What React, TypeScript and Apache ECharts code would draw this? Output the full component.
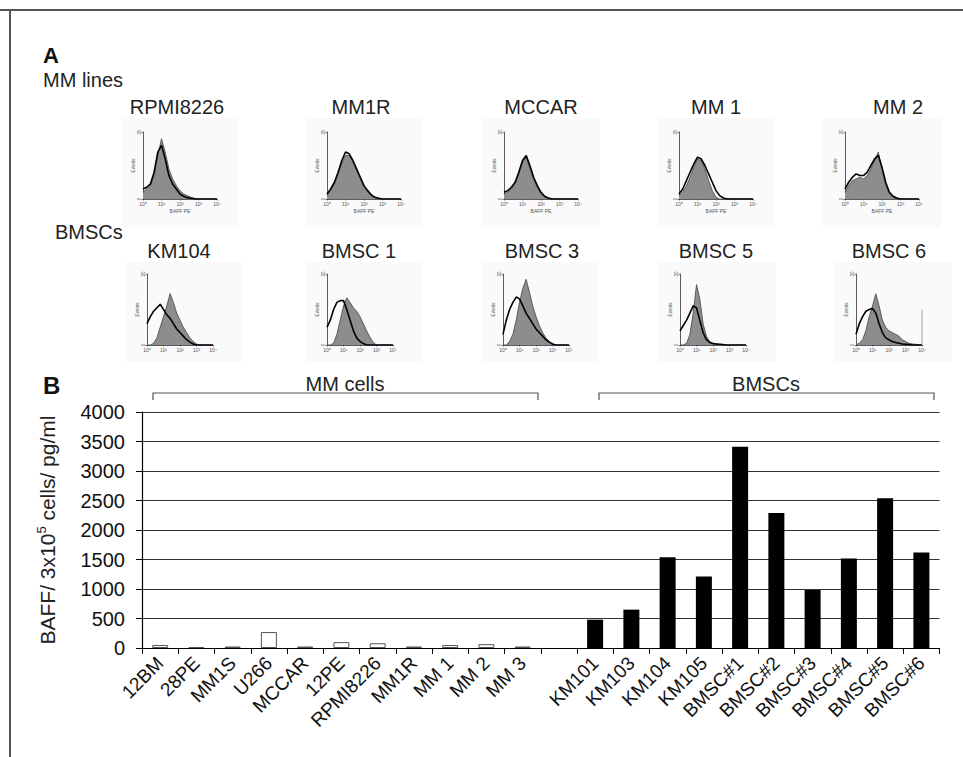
import React, { useEffect, useRef } from 'react';
import * as echarts from 'echarts';

const FONT = '"Liberation Sans", Arial, Helvetica, sans-serif';

// ---------- Panel A: flow histograms (x in log decades 10^0..10^4) ----------
const HIST_X = [0, 0.2, 0.4, 0.6, 0.8, 1, 1.2, 1.4, 1.6, 1.8, 2, 2.2, 2.4, 2.6, 2.8, 3, 3.2, 3.4, 3.6, 3.8, 4];
const HIST_DECADE_LABELS = ['10⁰', '10¹', '10²', '10³', '10⁴'];

const MM_LINE_NAMES = ['RPMI8226', 'MM1R', 'MCCAR', 'MM 1', 'MM 2'];
const BMSC_PANEL_NAMES = ['KM104', 'BMSC 1', 'BMSC 3', 'BMSC 5', 'BMSC 6'];

const RPMI8226_FILLED = [2, 3, 4, 7, 13, 18, 14, 9, 6, 4, 2.5, 1.5, 1, 0.5, 0.2, 0, 0, 0, 0, 0, 0];
const RPMI8226_OPEN = [3, 3.5, 4.5, 8, 14, 16, 12, 7, 4.5, 3, 1.5, 0.8, 0.4, 0.2, 0, 0, 0, 0, 0, 0, 0];
const MM1R_FILLED = [1, 2.5, 4.5, 7.5, 10.5, 13, 13, 11, 8.5, 6, 3.5, 2, 1, 0.3, 0, 0, 0, 0, 0, 0, 0];
const MM1R_OPEN = [1.5, 3, 5, 8, 11.5, 14, 13.5, 11.5, 9, 6.5, 4, 2.5, 1.2, 0.5, 0.2, 0, 0, 0, 0, 0, 0];
const MCCAR_FILLED = [1.5, 2, 3, 4.5, 7.5, 11, 12.5, 9, 6, 3.5, 1.5, 0.5, 0.2, 0, 0, 0, 0, 0, 0, 0, 0];
const MCCAR_OPEN = [2, 2.5, 3.5, 5, 8, 11.5, 13, 10, 6.5, 4, 2, 0.8, 0.3, 0, 0, 0, 0, 0, 0, 0, 0];
const MM1_FILLED = [1, 2, 4, 6.5, 9.5, 12, 11.5, 9, 5.5, 2.5, 0.5, 0, 0, 0, 0, 0, 0, 0, 0, 0, 0];
const MM1_OPEN = [1.5, 3, 5.5, 8, 10.5, 12.5, 12, 10, 7.5, 5, 2.5, 1, 0.3, 0, 0, 0, 0, 0, 0, 0, 0];
const MM2_FILLED = [2, 4, 5.5, 6, 6.5, 6, 7, 9, 11.5, 14, 9, 4, 1.5, 0.5, 0, 0, 0, 0, 0, 0, 0];
const MM2_OPEN = [3, 5, 6.5, 7.5, 7, 7, 8, 10, 12, 13, 9.5, 5, 2, 0.8, 0.3, 0, 0, 0, 0, 0, 0];

const KM104_FILLED = [0, 0, 0.5, 2, 5, 8, 11, 14.5, 12, 9, 7, 5, 3.5, 2, 1, 0.3, 0, 0, 0, 0, 0];
const KM104_OPEN = [6, 8, 9.5, 10.5, 11.5, 10, 8.5, 7.5, 6, 4.5, 3.5, 2.5, 1.5, 0.8, 0.3, 0, 0, 0, 0, 0, 0];
const BMSC1_FILLED = [0, 0, 0.5, 3, 7, 11, 13.3, 12, 10.5, 9.5, 8, 6, 4, 2.2, 0.8, 0, 0, 0, 0, 0, 0];
const BMSC1_OPEN = [5, 7, 10, 12, 12.5, 12.5, 10, 7, 4, 2, 1, 0.4, 0, 0, 0, 0, 0, 0, 0, 0, 0];
const BMSC3_FILLED = [0, 0, 1, 3, 7, 12, 16, 18.5, 15, 11, 8, 5.5, 3.5, 2, 1, 0.3, 0, 0, 0, 0, 0];
const BMSC3_OPEN = [3, 7, 10, 12, 13.5, 13, 11, 9, 7.5, 6, 4.5, 3.5, 2.5, 1.5, 0.8, 0.3, 0, 0, 0, 0, 0];
const BMSC5_FILLED = [0, 0, 0.5, 3, 9, 17, 13, 6, 2.5, 1, 0.5, 0.3, 0.2, 0.1, 0, 0, 0, 0, 0, 0, 0];
const BMSC5_OPEN = [4, 5.5, 7, 9, 11, 10.5, 7, 3.5, 1.5, 0.7, 0.4, 0.3, 0.2, 0.1, 0, 0, 0, 0, 0, 0, 0];
const BMSC6_FILLED = [0, 0.5, 1.5, 4, 8, 11, 14.4, 11, 7, 5, 4, 3.5, 3, 2.5, 1.5, 1, 0.5, 0.3, 0.2, 0.1, 0];
const BMSC6_OPEN = [3, 6, 8, 9.5, 10, 10.3, 9, 6, 3.5, 2, 1.5, 1, 0.7, 0.5, 0.3, 0.2, 0.1, 0, 0, 0, 0];
// off-scale events piled up in the last channel of BMSC 6 (decade, count)
const BMSC6_LAST_CHANNEL = [4, 10];

// ---------- Panel B: BAFF secretion bars ----------
const MM_CATEGORIES = ['12BM', '28PE', 'MM1S', 'U266', 'MCCAR', '12PE', 'RPMI8226', 'MM1R', 'MM 1', 'MM 2', 'MM 3'];
const MM_VALUES = [50, 15, 25, 270, 25, 100, 80, 25, 50, 65, 25];
const BMSC_CATEGORIES = ['KM101', 'KM103', 'KM104', 'KM105', 'BMSC#1', 'BMSC#2', 'BMSC#3', 'BMSC#4', 'BMSC#5', 'BMSC#6'];
const BMSC_VALUES = [480, 650, 1540, 1210, 3410, 2290, 985, 1515, 2540, 1620];

export default function App() {
  const ref = useRef<HTMLDivElement>(null);

  useEffect(() => {
    if (!ref.current) return;
    const chart = echarts.init(ref.current, null, { renderer: 'svg' });

    const histData = [
      [RPMI8226_FILLED, RPMI8226_OPEN],
      [MM1R_FILLED, MM1R_OPEN],
      [MCCAR_FILLED, MCCAR_OPEN],
      [MM1_FILLED, MM1_OPEN],
      [MM2_FILLED, MM2_OPEN],
      [KM104_FILLED, KM104_OPEN],
      [BMSC1_FILLED, BMSC1_OPEN],
      [BMSC3_FILLED, BMSC3_OPEN],
      [BMSC5_FILLED, BMSC5_OPEN],
      [BMSC6_FILLED, BMSC6_OPEN],
    ];
    const names = [...MM_LINE_NAMES, ...BMSC_PANEL_NAMES];

    const row1Left = [143, 327, 504, 679, 845];
    const row2Left = [147, 327, 503, 680, 856];
    const row1TitleX = [177, 361, 541, 716, 898];
    const row2TitleX = [179, 359, 542, 716, 889];
    const layouts = [
      ...row1Left.map((l, i) => ({ left: l, top: 132, width: 74, height: 67, titleX: row1TitleX[i], titleY: 107, row: 1 })),
      ...row2Left.map((l, i) => ({ left: l, top: 274, width: 66, height: 71, titleX: row2TitleX[i], titleY: 251, row: 2 })),
    ];

    const grids: any[] = [];
    const xAxes: any[] = [];
    const yAxes: any[] = [];
    const series: any[] = [];
    const graphics: any[] = [];

    graphics.push({ type: 'line', shape: { x1: 0, y1: 10, x2: 963, y2: 10 }, style: { stroke: '#555', lineWidth: 2 }, z: 10 });
    graphics.push({ type: 'line', shape: { x1: 10, y1: 10, x2: 10, y2: 757 }, style: { stroke: '#555', lineWidth: 2 }, z: 10 });

    graphics.push({ type: 'text', x: 43, y: 55, style: { text: 'A', font: `bold 22px ${FONT}`, fill: '#111', verticalAlign: 'middle' } });
    graphics.push({ type: 'text', x: 43, y: 80, style: { text: 'MM lines', font: `20px ${FONT}`, fill: '#222', verticalAlign: 'middle' } });
    graphics.push({ type: 'text', x: 55, y: 232, style: { text: 'BMSCs', font: `20px ${FONT}`, fill: '#222', verticalAlign: 'middle' } });

    layouts.forEach((L, i) => {
      const bgTop = L.row === 1 ? 118 : 262;
      const bgH = L.row === 1 ? 110 : 100;
      graphics.push({ type: 'rect', shape: { x: L.left - 22, y: bgTop, width: 118, height: bgH }, style: { fill: '#fafafa' }, z: -10 });
      graphics.push({
        type: 'text', x: L.titleX, y: L.titleY,
        style: { text: names[i], font: `20px ${FONT}`, fill: '#222', align: 'center', verticalAlign: 'middle' },
      });
      grids.push({ left: L.left, top: L.top, width: L.width, height: L.height, outerBoundsMode: 'none', containLabel: false });
      xAxes.push({
        type: 'value', gridIndex: i, min: 0, max: 4, interval: 1,
        name: L.row === 1 ? 'BAFF PE' : '', nameLocation: 'middle', nameGap: 9,
        nameTextStyle: { fontSize: 5, color: '#555', fontFamily: FONT },
        axisLine: { show: true, lineStyle: { color: '#333', width: 0.8 } },
        axisTick: { show: true, length: 1.5, lineStyle: { color: '#333', width: 0.6 } },
        axisLabel: { fontSize: 5, color: '#555', margin: 2, fontFamily: FONT, formatter: (v: number) => HIST_DECADE_LABELS[Math.round(v)] ?? '' },
        splitLine: { show: false },
      });
      yAxes.push({
        type: 'value', gridIndex: i, min: 0, max: 20, interval: 20,
        name: 'Events', nameLocation: 'middle', nameGap: 6, nameRotate: 90,
        nameTextStyle: { fontSize: 4.5, color: '#555', fontFamily: FONT },
        axisLine: { show: true, lineStyle: { color: '#333', width: 0.8 } },
        axisTick: { show: true, length: 1.5, lineStyle: { color: '#333', width: 0.6 } },
        axisLabel: { fontSize: 4.5, color: '#555', margin: 1.5, fontFamily: FONT, rotate: 90 },
        splitLine: { show: false },
      });
      const [filled, open] = histData[i];
      series.push({
        type: 'line', xAxisIndex: i, yAxisIndex: i, silent: true, symbol: 'none', z: 2,
        data: HIST_X.map((x, k) => [x, filled[k]]),
        lineStyle: { color: '#444', width: 0.8 },
        areaStyle: { color: '#8d8d8d', opacity: 1 },
      });
      series.push({
        type: 'line', xAxisIndex: i, yAxisIndex: i, silent: true, symbol: 'none', z: 3,
        data: HIST_X.map((x, k) => [x, open[k]]),
        lineStyle: { color: '#000', width: 1.6 },
      });
      if (i === 9) {
        series.push({
          type: 'line', xAxisIndex: i, yAxisIndex: i, silent: true, symbol: 'none', z: 3,
          data: [[BMSC6_LAST_CHANNEL[0], 0], BMSC6_LAST_CHANNEL],
          lineStyle: { color: '#888', width: 0.8 },
        });
      }
    });

    // Panel B
    graphics.push({ type: 'text', x: 43, y: 385, style: { text: 'B', font: `bold 24px ${FONT}`, fill: '#111', verticalAlign: 'middle' } });
    graphics.push({ type: 'polyline', shape: { points: [[153, 400], [153, 393], [538, 393], [538, 400]] }, style: { stroke: '#555', lineWidth: 1.2, fill: 'none' } });
    graphics.push({ type: 'polyline', shape: { points: [[599, 400], [599, 393], [934, 393], [934, 400]] }, style: { stroke: '#555', lineWidth: 1.2, fill: 'none' } });
    graphics.push({ type: 'text', x: 345, y: 384, style: { text: 'MM cells', font: `20px ${FONT}`, fill: '#222', align: 'center', verticalAlign: 'middle' } });
    graphics.push({ type: 'text', x: 766, y: 384, style: { text: 'BMSCs', font: `20px ${FONT}`, fill: '#222', align: 'center', verticalAlign: 'middle' } });

    const barIdx = layouts.length;
    const categories = [...MM_CATEGORIES, '', ...BMSC_CATEGORIES];
    const barData: any[] = [
      ...MM_VALUES.map((v) => ({ value: v, itemStyle: { color: '#fff', borderColor: '#555', borderWidth: 1 } })),
      '-',
      ...BMSC_VALUES.map((v) => ({ value: v, itemStyle: { color: '#000' } })),
    ];
    grids.push({ left: 142, top: 412, width: 797.5, height: 236, outerBoundsMode: 'none', containLabel: false });
    xAxes.push({
      type: 'category', gridIndex: barIdx, data: categories, boundaryGap: true,
      axisLine: { show: true, lineStyle: { color: '#000', width: 1.2 } },
      axisTick: { show: true, length: 6, interval: 0, lineStyle: { color: '#000', width: 1 } },
      axisLabel: { interval: 0, rotate: 45, fontSize: 19, color: '#111', margin: 12, fontFamily: FONT },
    });
    yAxes.push({
      type: 'value', gridIndex: barIdx, min: 0, max: 4000, interval: 500,
      name: '{a|BAFF/ 3x10}{s|5}{a| cells/ pg/ml}', nameLocation: 'middle', nameGap: 83, nameRotate: 90,
      nameTextStyle: {
        fontFamily: FONT, color: '#222',
        rich: {
          a: { fontSize: 21, fontFamily: FONT, color: '#222', lineHeight: 24 },
          s: { fontSize: 13, fontFamily: FONT, color: '#222', verticalAlign: 'top', lineHeight: 24 },
        },
      },
      axisLine: { show: true, lineStyle: { color: '#000', width: 1.2 } },
      axisTick: { show: true, length: 6, lineStyle: { color: '#000', width: 1 } },
      axisLabel: { fontSize: 20, color: '#111', margin: 17, fontFamily: FONT, formatter: (v: number) => String(v) },
      splitLine: { show: true, lineStyle: { color: '#333', width: 1 } },
    });
    series.push({
      type: 'bar', xAxisIndex: barIdx, yAxisIndex: barIdx, data: barData, barWidth: 16, silent: true,
    });

    chart.setOption({
      animation: false,
      backgroundColor: '#fff',
      grid: grids,
      xAxis: xAxes,
      yAxis: yAxes,
      series,
      graphic: graphics,
    });

    return () => chart.dispose();
  }, []);

  return <div ref={ref} style={{ position: 'absolute', left: 0, top: 0, width: 963, height: 757 }} />;
}
